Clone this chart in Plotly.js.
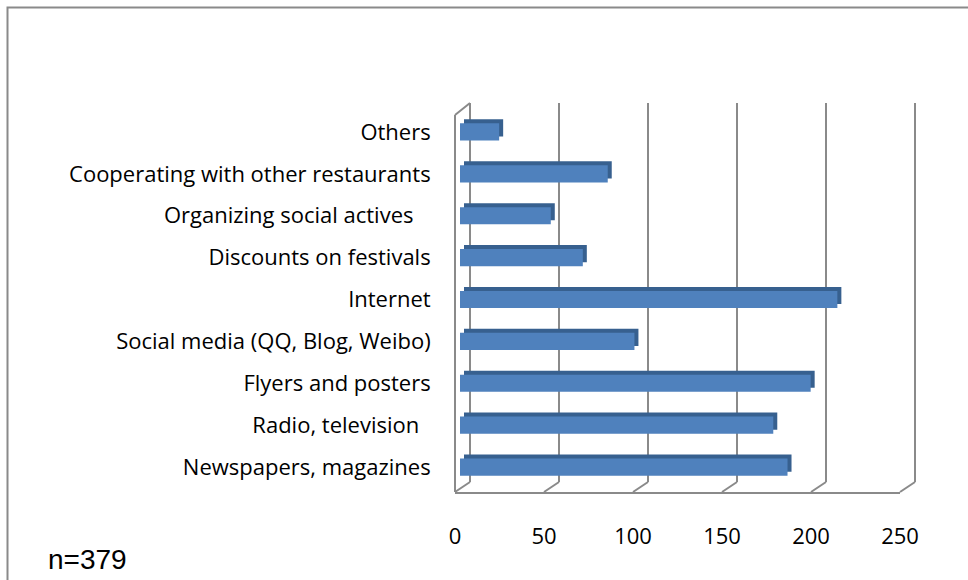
<!DOCTYPE html>
<html>
<head>
<meta charset="utf-8">
<script src="https://cdn.plot.ly/plotly-3.0.1.min.js"></script>
<style>html,body{margin:0;padding:0;background:#fff;}#chart{width:968px;height:580px;}</style>
</head>
<body>
<div id="chart"></div>
<script>
// ---- data ----
const categories = [
  "Newspapers, magazines",
  "Radio, television\u00a0\u00a0",
  "Flyers and posters",
  "Social media (QQ, Blog, Weibo)",
  "Internet",
  "Discounts on festivals",
  "Organizing social actives\u00a0\u00a0\u00a0",
  "Cooperating with other restaurants",
  "Others"
];
const values = [184, 176, 197, 98, 212, 69, 51, 83, 22];
const tickValues = [0, 50, 100, 150, 200, 250];
const tickLabels = ["0", "50", "100", "150", "200", "250"];
const sampleNote = "n=379";

// ---- geometry helpers (pixels -> paper) ----
const W = 968, H = 580;
const fx = p => p / W;
const fy = p => 1 - p / H;
const axMax = 250;
const frontL = 455, frontR = 900;   // floor front edge (tick labels)
const barL = 460, barR = 905;       // bar front face
const backL = 470, backR = 915;     // back wall grid
const floorFront = 492, floorBack = 482, wallTop = 103;
const catTop = 111, catBot = 488;   // category band
const s = (frontR - frontL) / axMax;
const pad = 3;                      // grid axis padding (data units) so edge gridlines are drawn

const gray = '#8a8a8a';
const labelFont = {family: 'Open Sans, sans-serif', size: 22, color: '#000'};

const traces = [
  // back-wall grid subplot
  {type: 'scatter', x: [], y: [], xaxis: 'x', yaxis: 'y', hoverinfo: 'skip', showlegend: false},
  // extrusion (dark) behind bars
  {type: 'bar', orientation: 'h', y: categories, x: values, xaxis: 'x2', yaxis: 'y2',
   width: 0.41, marker: {color: '#37608f', line: {width: 0}}, hoverinfo: 'skip', showlegend: false},
  // front faces
  {type: 'bar', orientation: 'h', y: categories, x: values, xaxis: 'x3', yaxis: 'y3',
   width: 0.41, marker: {color: '#4f81bd', line: {width: 0}}, showlegend: false},
  // floor / tick labels subplot
  {type: 'scatter', x: [], y: [], xaxis: 'x4', yaxis: 'y4', hoverinfo: 'skip', showlegend: false}
];

const hiddenY = (dom) => ({domain: dom, range: [0, 1], showgrid: false, zeroline: false, showline: false, showticklabels: false, fixedrange: true});
const catY = (dom, show) => ({domain: dom, type: 'category', categoryorder: 'array', categoryarray: categories,
  range: [-0.5, categories.length - 0.5], showgrid: false, zeroline: false, showline: false,
  showticklabels: show, ticks: '', ticklabelstandoff: 33, tickfont: labelFont, fixedrange: true});
const plainX = (dom, anchor) => ({domain: dom, anchor: anchor, range: [0, axMax], showgrid: false, zeroline: false,
  showline: false, showticklabels: false, fixedrange: true});

const layout = {
  width: W, height: H,
  margin: {l: 0, r: 0, t: 0, b: 0, pad: 0},
  paper_bgcolor: '#fff', plot_bgcolor: 'rgba(0,0,0,0)',
  showlegend: false, barmode: 'overlay',
  xaxis: Object.assign(plainX([fx(backL - pad * s), fx(backR + pad * s)], 'y'),
    {range: [-pad, axMax + pad], tickvals: tickValues, showgrid: true, gridcolor: gray, gridwidth: 2}),
  yaxis: hiddenY([fy(floorBack), fy(wallTop)]),
  xaxis2: plainX([fx(barL + 4), fx(barR + 4)], 'y2'),
  yaxis2: catY([fy(catBot - 4), fy(catTop - 4)], false),
  xaxis3: plainX([fx(barL), fx(barR)], 'y3'),
  yaxis3: catY([fy(catBot), fy(catTop)], true),
  xaxis4: Object.assign(plainX([fx(frontL), fx(frontR)], 'y4'), {
    tickvals: tickValues, ticktext: tickLabels, showticklabels: true, ticks: '',
    showline: true, linecolor: gray, linewidth: 2, tickfont: labelFont, ticklabelstandoff: 24}),
  yaxis4: hiddenY([fy(floorFront), fy(floorFront - 10)]),
  shapes: [],
  annotations: [{
    xref: 'paper', yref: 'paper', x: fx(46), y: fy(559), xanchor: 'left', yanchor: 'middle',
    text: sampleNote, showarrow: false, font: {family: 'Liberation Sans, Arial, sans-serif', size: 28, color: '#000'}
  }]
};

const line = (x0, y0, x1, y1) => ({type: 'line', xref: 'paper', yref: 'paper',
  x0: fx(x0), y0: fy(y0), x1: fx(x1), y1: fy(y1), line: {color: gray, width: 2}});
tickValues.forEach(v => {
  layout.shapes.push(line(frontL + s * v, floorFront, backL + s * v, floorBack));
});
layout.shapes.push(line(frontL, floorFront, frontL, 115));
layout.shapes.push(line(frontL, 115, backL, wallTop));
// outer chart frame
layout.shapes.push({type: 'rect', xref: 'paper', yref: 'paper', x0: fx(7.5), y0: fy(640), x1: fx(1040), y1: fy(7.5),
  line: {color: '#8a8a8a', width: 2}, fillcolor: 'rgba(0,0,0,0)'});

Plotly.newPlot('chart', traces, layout, {displayModeBar: false, staticPlot: true});
</script>
</body>
</html>
